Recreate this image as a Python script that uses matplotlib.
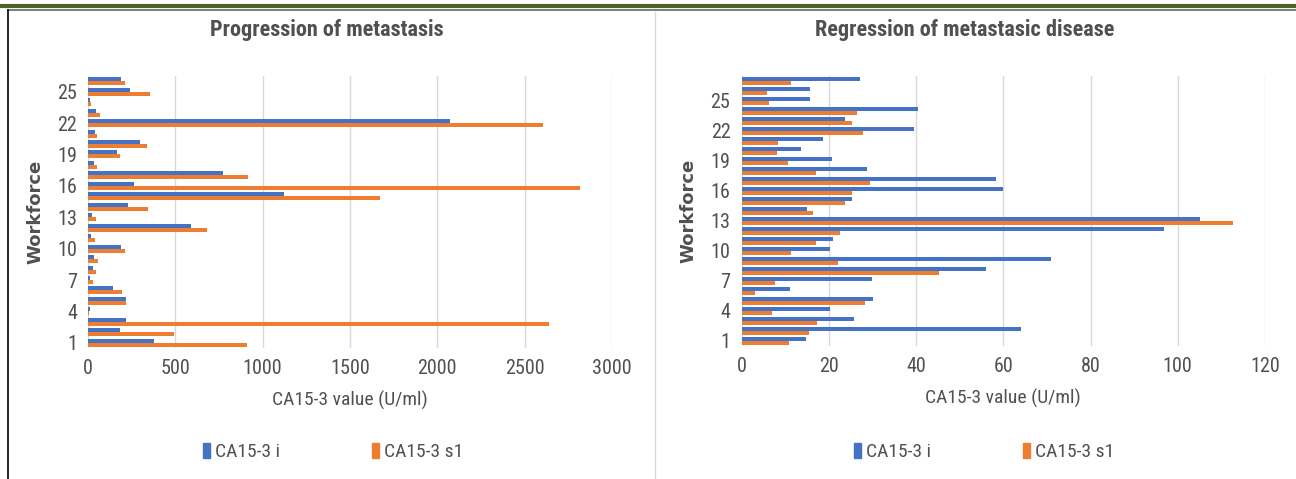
import matplotlib
matplotlib.use('Agg')
from matplotlib import pyplot as plt
from matplotlib import font_manager
from matplotlib.lines import Line2D
from matplotlib.patches import Patch
import numpy as np

# pick a narrow face if one is there
names = {f.name for f in font_manager.fontManager.ttflist}
narrow = [n for n in ['Liberation Sans Narrow', 'DejaVu Sans Condensed',
                      'Roboto Condensed', 'Open Sans Condensed'] if n in names]
plt.rcParams['font.family'] = narrow + ['DejaVu Sans']
if not narrow:
    plt.rcParams['font.stretch'] = 'condensed'

# Progression of metastasis (rows 1..26, bottom to top)
prog_i = [377, 183, 219, 12, 219, 142, 14, 30, 34, 190, 18, 590, 25,
          228, 1122, 263, 775, 37, 165, 297, 41, 2070, 46, 14, 240, 190]
prog_s1 = [912, 494, 2637, 8, 219, 197, 30, 46, 55, 210, 41, 679, 46,
           345, 1673, 2818, 916, 53, 185, 338, 53, 2607, 71, 18, 354, 213]

# Regression of metastasic disease (rows 1..27, bottom to top)
reg_i = [14.8, 64.0, 25.8, 20.2, 30.2, 11.2, 30.0, 56.0, 71.0, 20.2, 20.9,
         96.9, 105.1, 15.0, 25.3, 60.0, 58.3, 28.8, 20.7, 13.7, 18.6, 39.6,
         23.7, 40.4, 15.8, 15.8, 27.2]
reg_s1 = [10.8, 15.5, 17.3, 6.9, 28.3, 3.1, 7.7, 45.3, 22.2, 11.4, 17.0,
          22.5, 112.6, 16.5, 23.7, 25.3, 29.4, 17.1, 10.6, 8.1, 8.4, 27.8,
          25.3, 26.5, 6.4, 5.9, 11.4]

series_names = ['CA15-3 i', 'CA15-3 s1']
blue = '#4472C4'
orange = '#ED7D31'
txt = '#505050'

fig = plt.figure(figsize=(12.96, 4.79), dpi=100)


def panel(rect, vi, vs1, title, xmax, xstep, title_x, leg_x):
    ax = fig.add_axes(rect)
    n = len(vi)
    y = np.arange(1, n + 1)
    h = 0.38
    ax.barh(y + h / 2, vi, height=h, color=blue, zorder=3)
    ax.barh(y - h / 2, vs1, height=h, color=orange, zorder=3)
    ax.set_xlim(0, xmax)
    ax.set_ylim(0.5, n + 0.5)
    ax.set_xticks(np.arange(0, xmax + 1, xstep))
    ax.set_yticks(np.arange(1, n + 1, 3))
    ax.grid(axis='x', color='#D9D9D9', linewidth=1, zorder=0)
    for s in ax.spines.values():
        s.set_visible(False)
    ax.tick_params(length=0, colors=txt, labelsize=14.5, pad=8)
    ax.set_xlabel('CA15-3 value (U/ml)', fontsize=14, color=txt, labelpad=9)
    ax.set_ylabel('Workforce', fontsize=13, color=txt, fontweight='bold',
                  family='DejaVu Sans', labelpad=9)
    fig.text(title_x, 1 - 30 / 479, title, ha='center', va='center',
             fontsize=16, fontweight='bold', color=txt)
    handles = [Patch(color=blue), Patch(color=orange)]
    fig.legend(handles, series_names, loc='center', ncol=2,
               bbox_to_anchor=(leg_x, 1 - 452 / 479), frameon=False,
               fontsize=14, labelcolor=txt, handlelength=0.4,
               handleheight=0.8, handletextpad=0.25, columnspacing=4.7)
    return ax


panel([88 / 1296, 1 - 348 / 479, 524 / 1296, 272 / 479], prog_i, prog_s1,
      'Progression of metastasis', 3000, 500, 327 / 1296, 333 / 1296)
panel([741.5 / 1296, 1 - 346 / 479, 523.5 / 1296, 270 / 479], reg_i, reg_s1,
      'Regression of metastasic disease', 120, 20, 965 / 1296, 984 / 1296)

# page frame
fig.add_artist(Line2D([0, 1], [1 - 5.5 / 479] * 2, color='#4F6228', lw=3))
fig.add_artist(Line2D([8 / 1296, 1], [1 - 10 / 479] * 2, color='#666666', lw=1.2))
fig.add_artist(Line2D([8 / 1296] * 2, [0, 1 - 10 / 479], color='black', lw=1.2))
fig.add_artist(Line2D([655 / 1296] * 2, [0, 1 - 12 / 479], color='#D9D9D9', lw=1))

fig.savefig('out.png', dpi=100)
